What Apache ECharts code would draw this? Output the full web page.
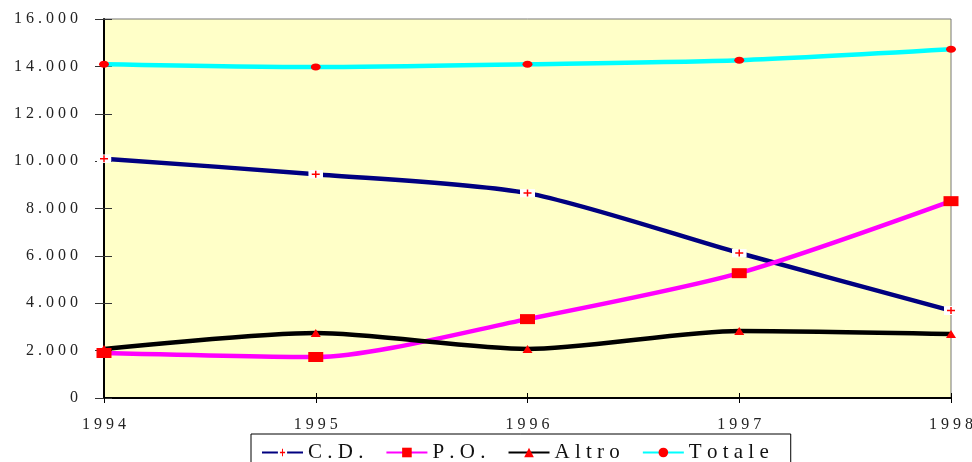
<!DOCTYPE html>
<html>
<head>
<meta charset="utf-8">
<script src="https://cdn.jsdelivr.net/npm/echarts@6/dist/echarts.min.js"></script>
<style>
  html, body { margin: 0; padding: 0; background: #fff; }
  #main { width: 972px; height: 462px; }
</style>
</head>
<body>
<div id="main"></div>
<script>
// dati
var anni = ['1994', '1995', '1996', '1997', '1998'];
var cd = [10100, 9450, 8650, 6120, 3690];
var po = [1900, 1730, 3330, 5270, 8310];
var altro = [2070, 2740, 2070, 2830, 2700];
var totale = [14090, 13970, 14090, 14260, 14720];

var spaziato = function (s) {
    return s.split('').join(' ');
};

// simbolo C.D.: croce rossa su fondo bianco
var crocePath = 'image://data:image/svg+xml;utf8,' + encodeURIComponent(
    "<svg xmlns='http://www.w3.org/2000/svg' width='15' height='9'>" +
    "<rect width='15' height='9' fill='white'/>" +
    "<path d='M3.5 4.5h8M7.5 1v7' stroke='red' stroke-width='1.5'/></svg>");

var myChart = echarts.init(document.getElementById('main'));

var fonte = 'Liberation Serif';

var option = {
    animation: false,
    backgroundColor: '#ffffff',
    grid: {
        left: 104, right: 21, top: 19, bottom: 64,
        outerBoundsMode: 'none',
        show: true,
        backgroundColor: '#FFFFC8',
        borderColor: '#777',
        borderWidth: 1
    },
    legend: {
        left: 251,
        top: 434,
        padding: [8, 22, 12, 10],
        borderColor: '#000',
        borderWidth: 1,
        itemWidth: 41,
        itemHeight: 12,
        itemGap: 22,
        textStyle: { fontFamily: fonte, fontSize: 21, color: '#111' },
        formatter: function (name) { return spaziato(name); },
        data: ['C.D.', 'P.O.', 'Altro', 'Totale']
    },
    xAxis: [
        {
            type: 'category',
            data: anni,
            boundaryGap: false,
            axisLine: { lineStyle: { color: '#000', width: 2 } },
            axisTick: { length: 5, lineStyle: { color: '#000' } },
            axisLabel: {
                margin: 19,
                fontFamily: fonte, fontSize: 16, color: '#222',
                formatter: function (v) { return spaziato(v); }
            }
        },
        {
            type: 'category',
            data: anni,
            boundaryGap: false,
            position: 'bottom',
            axisLine: { show: false },
            axisTick: { inside: true, length: 5, lineStyle: { color: '#000' } },
            axisLabel: { show: false }
        }
    ],
    yAxis: [
        {
            type: 'value',
            min: 0, max: 16000, interval: 2000,
            splitLine: { show: false },
            axisLine: { show: true, lineStyle: { color: '#000', width: 2 } },
            axisTick: { show: true, length: 9, lineStyle: { color: '#333' } },
            axisLabel: {
                margin: 26,
                fontFamily: fonte, fontSize: 16, color: '#222',
                formatter: function (v) {
                    var s = v === 0 ? '0' : (v / 1000) + '.000';
                    return spaziato(s);
                }
            }
        },
        {
            type: 'value',
            min: 0, max: 16000, interval: 2000,
            position: 'left',
            splitLine: { show: false },
            axisLine: { show: false },
            axisTick: { show: true, inside: true, length: 8, lineStyle: { color: '#333' } },
            axisLabel: { show: false }
        }
    ],
    series: [
        {
            name: 'C.D.', type: 'line', data: cd, smooth: 0.25,
            lineStyle: { color: '#000080', width: 4.5 },
            itemStyle: { color: '#000080' },
            symbol: crocePath, symbolSize: [15, 9]
        },
        {
            name: 'P.O.', type: 'line', data: po, smooth: 0.25,
            lineStyle: { color: '#FF00FF', width: 4.5 },
            itemStyle: { color: '#FF0000' },
            symbol: 'rect', symbolSize: [15, 10]
        },
        {
            name: 'Altro', type: 'line', data: altro, smooth: 0.25,
            lineStyle: { color: '#000000', width: 4.5 },
            itemStyle: { color: '#FF0000' },
            symbol: 'triangle', symbolSize: [10, 8]
        },
        {
            name: 'Totale', type: 'line', data: totale, smooth: 0.25,
            lineStyle: { color: '#00FFFF', width: 4.5 },
            itemStyle: { color: '#FF0000' },
            symbol: 'circle', symbolSize: [10, 7]
        }
    ]
};

myChart.setOption(option);
</script>
</body>
</html>
